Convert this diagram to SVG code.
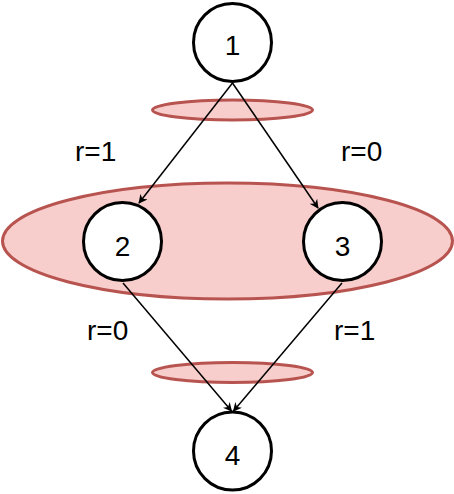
<svg xmlns="http://www.w3.org/2000/svg" width="454" height="494" viewBox="0 0 454 494">
<style>
.region{fill:#f8cecc;stroke:#b85450;stroke-width:3}
.node circle{fill:#fff;stroke:#000;stroke-width:3}
.lbl{font-family:"Liberation Sans",Arial,sans-serif;font-size:28px;fill:#000}
.edge{stroke:#000;stroke-width:1.5;fill:none;marker-end:url(#arr)}
</style>
<defs>
<marker id="arr" viewBox="0 0 10 10" refX="9" refY="5" markerWidth="9" markerHeight="9" markerUnits="userSpaceOnUse" orient="auto">
<path d="M0,0 L10,5 L0,10 L3,5 Z" fill="#000"/>
</marker>
</defs>
<g id="regions">
<ellipse id="region-top" class="region" cx="232.5" cy="110" rx="80" ry="10"/>
<ellipse id="region-mid" class="region" cx="227.5" cy="241" rx="225" ry="58"/>
<ellipse id="region-bot" class="region" cx="232.5" cy="372.5" rx="80" ry="10"/>
</g>
<g id="connectors">
<line class="edge" x1="232.5" y1="83" x2="139" y2="203"/>
<line class="edge" x1="232.5" y1="83" x2="318" y2="208"/>
<line class="edge" x1="123" y1="283" x2="231.5" y2="411"/>
<line class="edge" x1="342" y1="283" x2="233.5" y2="411"/>
</g>
<g id="labels">
<text class="lbl" x="75" y="161">r=1</text>
<text class="lbl" x="341" y="161">r=0</text>
<text class="lbl" x="87" y="340">r=0</text>
<text class="lbl" x="334" y="340">r=1</text>
</g>
<g id="node1" class="node"><circle cx="232.5" cy="42.5" r="39"/><text class="lbl" x="232.5" y="55" text-anchor="middle">1</text></g>
<g id="node2" class="node"><circle cx="122.5" cy="241.5" r="39"/><text class="lbl" x="122.5" y="256" text-anchor="middle">2</text></g>
<g id="node3" class="node"><circle cx="342.5" cy="241.5" r="39"/><text class="lbl" x="342.5" y="256" text-anchor="middle">3</text></g>
<g id="node4" class="node"><circle cx="232.5" cy="451" r="39"/><text class="lbl" x="232.5" y="465" text-anchor="middle">4</text></g>
</svg>
